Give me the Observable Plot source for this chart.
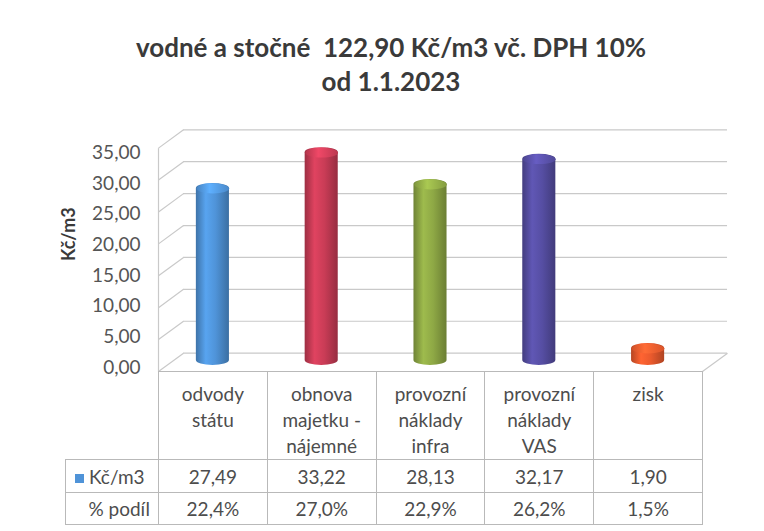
<!DOCTYPE html>
<html><head><meta charset="utf-8">
<script src="https://cdn.jsdelivr.net/npm/d3@7"></script>
<script src="https://cdn.jsdelivr.net/npm/@observablehq/plot@0.6"></script>
<style>
body{margin:0;background:#fff;}
#wrap{position:relative;width:764px;height:531px;overflow:hidden;font-family:Lato,"Open Sans",sans-serif;background:#fff;}
#title{position:absolute;left:9px;top:30px;width:764px;text-align:center;font-weight:bold;font-size:26px;line-height:34px;color:#3a3a3a;white-space:pre;}
#chart{position:absolute;left:0;top:0;}
#tbl{position:absolute;border-collapse:collapse;table-layout:fixed;font-size:19px;color:#4d4d4d;}
#tbl td{border:1.5px solid #b9b9b9;text-align:center;padding:0;}
#tbl td.blank{border-top:none;border-left:none;}
#tbl td.head{vertical-align:top;white-space:pre-line;line-height:26px;padding-top:9px;}
#tbl td.rl{text-align:left;padding-left:9px;}
#tbl td.rr{text-align:right;padding-right:8px;}
#tbl .key{display:inline-block;width:9px;height:9px;margin-right:5px;vertical-align:1px;}
</style></head><body>
<div id="wrap"><div id="title"></div><div id="chart"></div><table id="tbl"></table></div>
<script>
// ---- data ----
const titleLines = ["vodné a stočné  122,90 Kč/m3 vč. DPH 10%", "od 1.1.2023"];
const categories = ["odvody\nstátu", "obnova\nmajetku -\nnájemné", "provozní\nnáklady\ninfra", "provozní\nnáklady\nVAS", "zisk"];
const values = [27.49, 33.22, 28.13, 32.17, 1.90];
const shares = [22.4, 27.0, 22.9, 26.2, 1.5];
const colors = ["#4f93d8", "#c93c56", "#8ea845", "#564ea3", "#ea5a2d"];
const yTicks = [0, 5, 10, 15, 20, 25, 30, 35];
const yTitle = "Kč/m3";
const rowLabels = ["Kč/m3", "% podíl"];

// ---- helpers ----
const cs = d3.formatLocale({decimal: ",", thousands: "\u00a0", grouping: [3], currency: ["", " Kč"]});
const fmt2 = cs.format(".2f");
const fmtPct = v => cs.format(".1f")(v) + "%";
const data = categories.map((c, i) => ({i, cat: c, value: values[i], share: shares[i], color: colors[i]}));
const n = categories.length;

// 3D look: depth offset of the back wall (x in category units, y via projections in value units)
const depthX = 0.23;
const back = v => 1.02 * v + 1.17;
const front = v => 1.02 * v - 1.76;
const labelPos = v => 0.98 * v - 1.12;
const halfBar = 0.152;
const grid = "#c9c9c9";

const ellipse = {draw(ctx, size) {
  const rx = Math.sqrt(size / Math.PI), ry = rx * 0.3, k = 0.5523;
  ctx.moveTo(rx, 0);
  ctx.bezierCurveTo(rx, ry * k, rx * k, ry, 0, ry);
  ctx.bezierCurveTo(-rx * k, ry, -rx, ry * k, -rx, 0);
  ctx.bezierCurveTo(-rx, -ry * k, -rx * k, -ry, 0, -ry);
  ctx.bezierCurveTo(rx * k, -ry, rx, -ry * k, rx, 0);
  ctx.closePath();
}};

const titleEl = document.getElementById("title");
titleEl.textContent = titleLines.join("\n");

const chart = Plot.plot({
  width: 764, height: 531,
  marginLeft: 158, marginRight: 62, marginTop: 141, marginBottom: 171,
  style: {fontFamily: "Lato, 'Open Sans', sans-serif", background: "transparent"},
  x: {type: "linear", domain: [-0.5, n - 0.5], axis: null},
  y: {type: "linear", domain: [0, 35], axis: null},
  color: {type: "identity"},
  marks: [
    // back wall gridlines
    Plot.ruleY(yTicks, {y: back, x1: -0.5 + depthX, x2: n - 0.5 + depthX, stroke: grid, strokeWidth: 1.2}),
    // left wall diagonals
    Plot.link(yTicks, {x1: -0.5, y1: front, x2: -0.5 + depthX, y2: back, stroke: grid, strokeWidth: 1.2}),
    // left wall front edge
    Plot.link([0], {x1: -0.5, x2: -0.5, y1: () => front(yTicks[0]), y2: () => front(yTicks[yTicks.length - 1]), stroke: grid, strokeWidth: 1.2}),
    // floor right edge
    Plot.link([0], {x1: n - 0.5, y1: front, x2: n - 0.5 + depthX, y2: back, stroke: grid, strokeWidth: 1.2}),
    // cylinders
    Plot.rect(data, {x1: d => d.i - halfBar, x2: d => d.i + halfBar, y1: 0, y2: "value",
      fill: d => `url(#cyl${d.i})`, rx: 16.5, ry: 5, insetTop: -5, insetBottom: -5}),
    Plot.dot(data, {x: "i", y: "value", r: 16.3, symbol: ellipse, fill: d => `url(#cap${d.i})`, stroke: "none"}),
    // y tick labels
    Plot.text(yTicks, {y: labelPos, text: fmt2, frameAnchor: "left", dx: -18, textAnchor: "end", fontSize: 19, fill: "#555"}),
    // y title
    Plot.text([yTitle], {text: d => d, frameAnchor: "left", dx: -89, dy: 10, rotate: -90, fontSize: 18, fontWeight: "bold", fill: "#3a3a3a"})
  ]
});

// gradients for the cylinders
const defs = d3.select(chart).insert("defs", ":first-child");
data.forEach(d => {
  const c = d3.color(d.color);
  const g = defs.append("linearGradient").attr("id", `cyl${d.i}`).attr("x1", 0).attr("x2", 1).attr("y1", 0).attr("y2", 0);
  [[0, c.darker(0.7)], [0.3, c.brighter(0.3)], [0.6, c], [1, c.darker(0.8)]]
    .forEach(([o, col]) => g.append("stop").attr("offset", o).attr("stop-color", col.formatHex()));
  const h = defs.append("linearGradient").attr("id", `cap${d.i}`).attr("x1", 0).attr("x2", 1).attr("y1", 0).attr("y2", 0);
  [[0, c.darker(0.3)], [0.4, c.brighter(0.5)], [1, c.darker(0.2)]]
    .forEach(([o, col]) => h.append("stop").attr("offset", o).attr("stop-color", col.formatHex()));
});
document.getElementById("chart").appendChild(chart);

// data table under the plot, columns aligned with the x scale
const xs = chart.scale("x"), ys = chart.scale("y");
const colW = xs.apply(1) - xs.apply(0);
const left0 = xs.apply(-0.5);
const tableLeft = 65;
const tbl = document.getElementById("tbl");
tbl.style.left = tableLeft + "px";
tbl.style.top = ys.apply(front(0)) + "px";
tbl.style.width = (left0 - tableLeft + n * colW) + "px";
let html = `<colgroup><col style="width:${left0 - tableLeft}px">` + categories.map(() => `<col style="width:${colW}px">`).join("") + "</colgroup>";
html += `<tr style="height:84px"><td class="blank"></td>` + categories.map(c => `<td class="head">${c}</td>`).join("") + "</tr>";
html += `<tr style="height:33px"><td class="rl"><span class="key" style="background:${colors[0]}"></span>${rowLabels[0]}</td>` + values.map(v => `<td>${fmt2(v)}</td>`).join("") + "</tr>";
html += `<tr style="height:32px"><td class="rr">${rowLabels[1]}</td>` + shares.map(v => `<td>${fmtPct(v)}</td>`).join("") + "</tr>";
tbl.innerHTML = html;
</script>
</body></html>
